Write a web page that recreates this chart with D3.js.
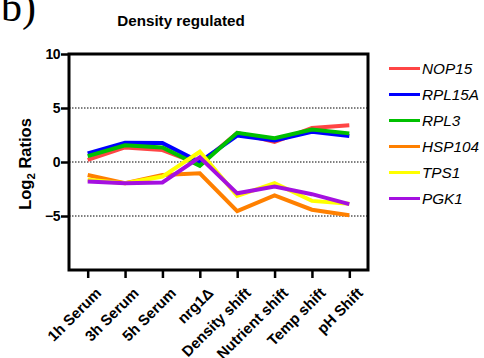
<!DOCTYPE html>
<html><head><meta charset="utf-8">
<script src="https://cdn.jsdelivr.net/npm/d3@7"></script>
<style>body{margin:0;background:#fff}svg{display:block}</style>
</head><body>
<script>
const categories = ["1h Serum","3h Serum","5h Serum","nrg1\u0394","Density shift","Nutrient shift","Temp shift","pH Shift"];
const genes = ["NOP15","RPL15A","RPL3","HSP104","TPS1","PGK1"];
const colors = ["#ff4545","#0000ff","#00c000","#ff8000","#ffff00","#a410e0"];
const NOP15  = [0.2, 1.35, 1.1, -0.2, 2.7, 1.85, 3.15, 3.4];
const RPL15A = [0.8, 1.78, 1.75, 0.0, 2.45, 2.0, 2.8, 2.4];
const RPL3   = [0.55, 1.55, 1.35, -0.35, 2.7, 2.2, 3.0, 2.65];
const HSP104 = [-1.2, -1.96, -1.2, -1.05, -4.55, -3.1, -4.42, -4.94];
const TPS1   = [-1.65, -1.96, -1.35, 0.95, -3.13, -1.96, -3.6, -3.87];
const PGK1   = [-1.8, -1.96, -1.9, 0.43, -2.9, -2.27, -2.98, -3.9];
const yTicks = [10, 5, 0, -5];
const series = [NOP15, RPL15A, RPL3, HSP104, TPS1, PGK1];

const W = 484, H = 358;
const FONT = "Liberation Sans, Arial, sans-serif";
const svg = d3.select("body").append("svg").attr("width", W).attr("height", H);
const L = 69, R = 368, T = 54, B = 270;
const x = d3.scalePoint().domain(categories).range([L, R]).padding(0.5);
const y = d3.scaleLinear().domain([-10, 10]).range([B, T]);

// b) label
svg.append("text").attr("x", 1).attr("y", 21).attr("font-family", "Liberation Serif, Times New Roman, serif")
  .attr("font-size", 42).text("b)");
// title
svg.append("text").attr("x", 181).attr("y", 26).attr("text-anchor", "middle")
  .attr("font-family", FONT).attr("font-weight", "bold").attr("font-size", 15.2)
  .text("Density regulated");

// gridlines
svg.append("g").selectAll("line").data([5, 0, -5]).join("line")
  .attr("x1", L).attr("x2", R).attr("y1", d => y(d)).attr("y2", d => y(d))
  .attr("stroke", "#000").attr("stroke-width", 1).attr("stroke-dasharray", "1.5,1.5");

// lines
const line = d3.line().x((d, i) => x(categories[i])).y(d => y(d));
svg.append("g").selectAll("path").data(series).join("path")
  .attr("d", d => line(d)).attr("fill", "none")
  .attr("stroke", (d, i) => colors[i]).attr("stroke-width", 4).attr("stroke-linejoin", "miter");

// frame
svg.append("rect").attr("x", L).attr("y", T).attr("width", R - L).attr("height", B - T)
  .attr("fill", "none").attr("stroke", "#000").attr("stroke-width", 3);

// y axis
const yAx = svg.append("g").attr("transform", `translate(${L},0)`)
  .call(d3.axisLeft(y).tickValues(yTicks).tickSize(8).tickPadding(1));
yAx.select(".domain").remove();
yAx.selectAll(".tick line").attr("stroke-width", 2.5);
yAx.selectAll("text").attr("font-family", FONT)
  .attr("font-weight", "bold").attr("font-size", 14).attr("fill", "#000").attr("letter-spacing", -0.5);

// x axis
const xAx = svg.append("g").attr("transform", `translate(0,${B})`)
  .call(d3.axisBottom(x).tickSize(8).tickPadding(3));
xAx.select(".domain").remove();
xAx.selectAll(".tick line").attr("stroke-width", 2.5);
xAx.selectAll("text").attr("font-family", FONT)
  .attr("font-weight", "bold").attr("font-size", 15).attr("fill", "#000")
  .attr("text-anchor", "end").attr("x", 0).attr("y", 0).attr("dy", 0)
  .attr("transform", "translate(14,24) rotate(-45)");

// y label
const yl = svg.append("text").attr("transform", `translate(31,164) rotate(-90)`)
  .attr("text-anchor", "middle").attr("font-family", FONT)
  .attr("font-weight", "bold").attr("font-size", 16.5);
yl.append("tspan").text("Log");
yl.append("tspan").attr("font-size", 11.5).attr("dy", 4).text("2");
yl.append("tspan").attr("dy", -4).text(" Ratios");

// legend
const lg = svg.append("g").selectAll("g").data(genes).join("g")
  .attr("transform", (d, i) => `translate(389,${68.5 + i * 26})`);
lg.append("line").attr("x1", 0).attr("x2", 31).attr("stroke", (d, i) => colors[i]).attr("stroke-width", 3);
lg.append("text").attr("x", 33).attr("dy", "0.35em").attr("font-family", FONT)
  .attr("font-style", "italic").attr("font-size", 15.3).text(d => d);
</script>
</body></html>
